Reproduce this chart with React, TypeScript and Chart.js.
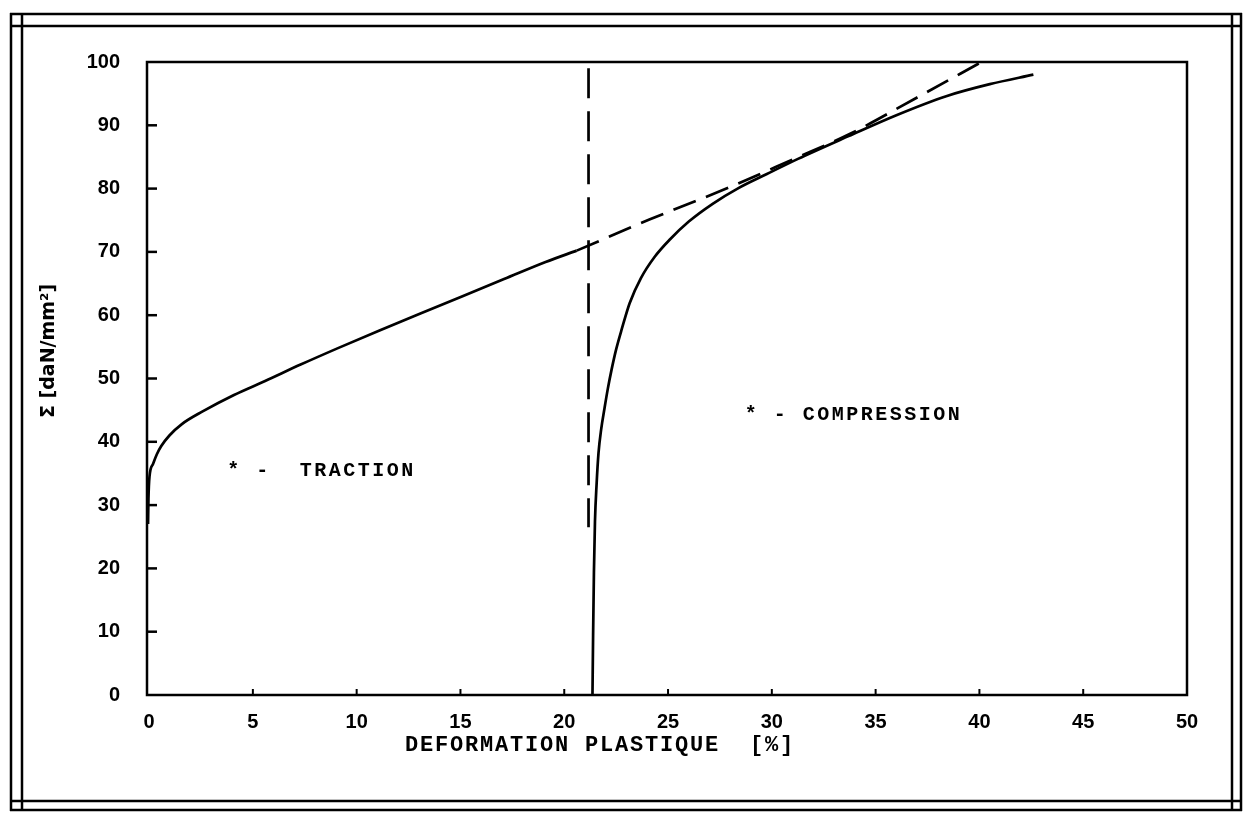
import React, { useEffect, useRef } from "react";
import { Chart, registerables } from "chart.js";

Chart.register(...registerables);

// ---- data ----
const xTicks = [0, 5, 10, 15, 20, 25, 30, 35, 40, 45, 50];
const yTicks = [0, 10, 20, 30, 40, 50, 60, 70, 80, 90, 100];

const tractionX = [-0.05, -0.03, 0.02, 0.19, 0.37, 0.58, 0.98, 1.58, 2.58, 4.09, 5.59, 7.3, 9.1, 11.1, 13.1, 15.1, 17.1, 19.1, 20.6];
const tractionY = [27, 31, 34.5, 36.5, 38, 39.3, 41, 42.8, 44.8, 47.4, 49.6, 52.2, 54.8, 57.6, 60.3, 63.0, 65.7, 68.4, 70.2];

const extensionX = [20.6, 24.1, 28.1, 31.0, 33.8, 37.0, 40.1];
const extensionY = [70.2, 75.1, 80.4, 84.6, 88.7, 94.4, 100];

const unloadX = [21.17, 21.17];
const unloadY = [99, 26.5];

const compressionX = [21.36, 21.39, 21.43, 21.48, 21.56, 21.65, 21.78, 21.94, 22.1, 22.28, 22.5, 22.78, 23.15, 23.7, 24.35, 25.1, 26.0, 27.15, 28.35, 29.76, 31.26, 33.7, 36.0, 38.4, 40.5, 42.6];
const compressionY = [0, 9.4, 19.4, 27.4, 33.4, 38.2, 42.0, 45.3, 48.4, 51.4, 54.6, 57.9, 61.9, 65.9, 69.2, 72.0, 74.8, 77.6, 80.0, 82.3, 84.7, 88.3, 91.6, 94.6, 96.5, 98.0];

const noteTexts = ["* -  TRACTION", "* - COMPRESSION"];
const noteX = [3.76, 28.7];
const noteY = [35.4, 44.3];

const xTitle = "DEFORMATION PLASTIQUE  [%]";
const yTitle = "\u03A3 [daN/mm\u00B2]";

const toPoints = (xs: number[], ys: number[]) => xs.map((x, i) => ({ x, y: ys[i] }));

const decorPlugin = {
  id: "decor",
  afterDraw(chart: any) {
    const { ctx, chartArea: a, scales } = chart;
    const xs = scales.x;
    const ys = scales.y;
    ctx.save();
    ctx.strokeStyle = "#000";
    ctx.fillStyle = "#000";
    ctx.lineCap = "butt";

    const line = (x1: number, y1: number, x2: number, y2: number, w: number) => {
      ctx.lineWidth = w;
      ctx.beginPath();
      ctx.moveTo(x1, y1);
      ctx.lineTo(x2, y2);
      ctx.stroke();
    };

    // plot box
    ctx.lineWidth = 2.5;
    ctx.strokeRect(a.left, a.top, a.right - a.left, a.bottom - a.top);

    // inward ticks
    yTicks.forEach((v) => {
      if (v === 0 || v === 100) return;
      const py = ys.getPixelForValue(v);
      line(a.left, py, a.left + 10, py, 2.5);
    });
    xTicks.forEach((v) => {
      if (v === 0 || v === 50) return;
      const px = xs.getPixelForValue(v);
      line(px, a.bottom, px, a.bottom - 6, 2);
    });

    // outer double frame
    const W = chart.width;
    const H = chart.height;
    const vx = [11, 22, W - 19, W - 10];
    const hy = [14, 26, H - 12, H - 3];
    vx.forEach((x) => line(x, hy[0] - 1, x, hy[3] + 1, 2.5));
    hy.forEach((y) => line(vx[0] - 1, y, vx[3] + 1, y, 2.5));

    // annotations
    ctx.font = 'bold 20px "Liberation Mono"';
    (ctx as any).letterSpacing = "2.5px";
    ctx.textAlign = "left";
    ctx.textBaseline = "middle";
    noteTexts.forEach((t, i) => {
      ctx.fillText(t, xs.getPixelForValue(noteX[i]), ys.getPixelForValue(noteY[i]));
    });

    // x title
    ctx.font = 'bold 22px "Liberation Mono"';
    (ctx as any).letterSpacing = "1.8px";
    ctx.textAlign = "center";
    ctx.fillText(xTitle, 600, 745);

    // y title
    (ctx as any).letterSpacing = "0px";
    ctx.font = 'bold 19px "DejaVu Sans"';
    ctx.translate(49, 351);
    ctx.rotate(-Math.PI / 2);
    ctx.textAlign = "center";
    ctx.textBaseline = "middle";
    ctx.fillText(yTitle, 0, 0);
    ctx.restore();
  },
};

export default function App() {
  const ref = useRef<HTMLCanvasElement | null>(null);

  useEffect(() => {
    if (!ref.current) return;
    const common = {
      pointRadius: 0,
      borderColor: "#000",
      borderWidth: 2.7,
      fill: false,
      cubicInterpolationMode: "monotone" as const,
    };
    const chart = new Chart(ref.current, {
      type: "line",
      data: {
        datasets: [
          { ...common, label: "traction", data: toPoints(tractionX, tractionY) },
          { ...common, label: "extension", data: toPoints(extensionX, extensionY), borderDash: [24, 11] },
          { ...common, label: "unload", data: toPoints(unloadX, unloadY), borderDash: [30, 13], cubicInterpolationMode: "default" as const, tension: 0 },
          { ...common, label: "compression", data: toPoints(compressionX, compressionY) },
        ],
      },
      options: {
        animation: false,
        responsive: false,
        parsing: false as any,
        layout: { padding: { left: 0, top: 62, right: 64, bottom: 0 } },
        plugins: {
          legend: { display: false },
          tooltip: { enabled: false },
          title: { display: false },
        },
        scales: {
          x: {
            type: "linear",
            min: -0.1,
            max: 50,
            grid: { display: false },
            border: { display: false },
            afterBuildTicks: (s: any) => {
              s.ticks = xTicks.map((v) => ({ value: v }));
            },
            afterFit: (s: any) => {
              s.height = 813 - 695;
            },
            ticks: {
              color: "#000",
              padding: 7,
              maxRotation: 0,
              autoSkip: false,
              font: { family: "Liberation Sans", weight: "bold", size: 20 },
            },
          },
          y: {
            type: "linear",
            min: 0,
            max: 100,
            grid: { display: false },
            border: { display: false },
            afterBuildTicks: (s: any) => {
              s.ticks = yTicks.map((v) => ({ value: v }));
            },
            afterFit: (s: any) => {
              s.width = 147;
            },
            ticks: {
              color: "#000",
              padding: 19,
              autoSkip: false,
              font: { family: "Liberation Sans", weight: "bold", size: 20 },
            },
          },
        },
      },
      plugins: [decorPlugin],
    });
    return () => chart.destroy();
  }, []);

  return (
    <div style={{ position: "fixed", left: 0, top: 0, width: 1251, height: 813, background: "#fff" }}>
      <canvas ref={ref} width={1251} height={813} style={{ display: "block" }} />
    </div>
  );
}
